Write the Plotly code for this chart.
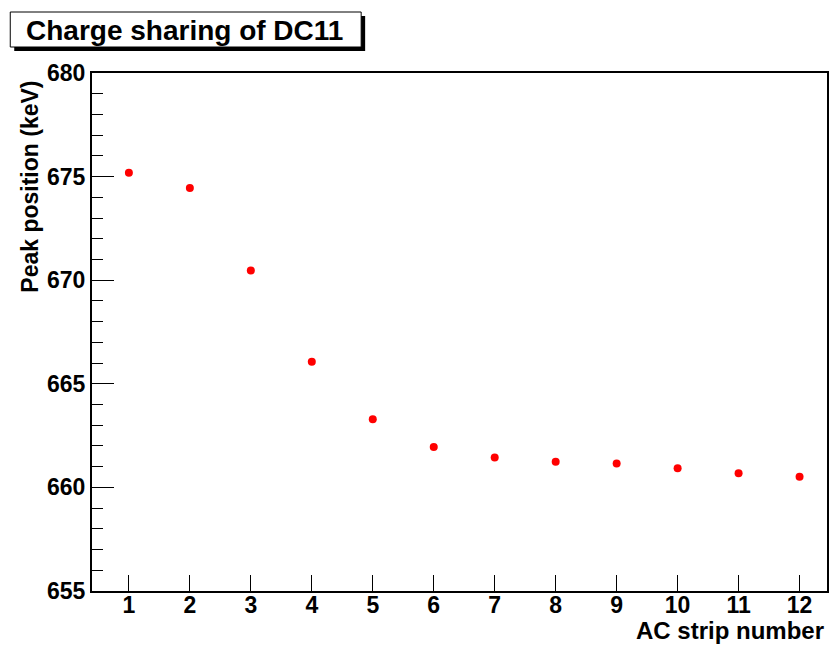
import plotly.graph_objects as go

# ---- data ----
strips = [1, 2, 3, 4, 5, 6, 7, 8, 9, 10, 11, 12]
peak_kev = [675.19, 674.45, 670.47, 666.06, 663.29, 661.95, 661.44, 661.24, 661.15, 660.92, 660.68, 660.52]
y_ticks = [655, 660, 665, 670, 675, 680]
title_text = "Charge sharing of DC11"
x_title = "AC strip number"
y_title = "Peak position (keV)"

# ---- layout geometry (pixels) ----
W, H = 833, 645
L, R, T, B = 92, 829.3, 73, 591
pw, ph = R - L, B - T

def px(x):
    return (x - L) / pw

def py(y):
    return (B - y) / ph

FONT = "Liberation Sans"

fig = go.Figure()
fig.add_trace(go.Scatter(
    x=strips, y=peak_kev, mode="markers",
    marker=dict(color="#ff0000", size=8, line=dict(width=0)),
    showlegend=False, cliponaxis=False,
))

fig.update_layout(
    width=W, height=H,
    margin=dict(l=L, r=W - R, t=T, b=H - B, pad=0),
    paper_bgcolor="white", plot_bgcolor="white",
    font=dict(family=FONT, color="black"),
    xaxis=dict(
        range=[0.395, 12.45], tickmode="array", tickvals=strips,
        ticktext=["<b>%d</b>" % s for s in strips],
        ticks="inside", ticklen=16, tickwidth=1, tickcolor="black",
        ticklabelstandoff=-8,
        showline=True, linecolor="black", linewidth=2, mirror=True,
        showgrid=False, zeroline=False,
        tickfont=dict(family=FONT, size=23, color="black"),
    ),
    yaxis=dict(
        range=[655, 680], tickmode="array", tickvals=y_ticks,
        ticktext=["<b>%d</b>" % v for v in y_ticks],
        ticks="inside", ticklen=22, tickwidth=1, tickcolor="black",
        minor=dict(ticks="inside", ticklen=11, dtick=1, tick0=655, tickcolor="black", tickwidth=1, showgrid=False),
        showline=True, linecolor="black", linewidth=2, mirror=True,
        showgrid=False, zeroline=False,
        tickfont=dict(family=FONT, size=23, color="black"),
    ),
)

# title box with shadow
fig.add_shape(type="rect", xref="paper", yref="paper",
              x0=px(14), x1=px(366), y0=py(51), y1=py(16),
              fillcolor="black", line=dict(width=0), layer="above")
fig.add_shape(type="rect", xref="paper", yref="paper",
              x0=px(10), x1=px(362), y0=py(47), y1=py(12),
              fillcolor="white", line=dict(color="black", width=1), layer="above")
fig.add_annotation(xref="paper", yref="paper", x=px(185), y=py(30),
                   text="<b>%s</b>" % title_text, showarrow=False,
                   xanchor="center", yanchor="middle",
                   font=dict(family=FONT, size=28, color="black"))

# axis titles (right-aligned, ROOT style)
fig.add_annotation(xref="paper", yref="paper", x=px(828), y=py(630),
                   text="<b>%s</b>" % x_title, showarrow=False,
                   xanchor="right", yanchor="middle",
                   font=dict(family=FONT, size=24, color="black"))
fig.add_annotation(xref="paper", yref="paper", x=px(29.5), y=py(187),
                   text="<b>%s</b>" % y_title, showarrow=False, textangle=-90,
                   xanchor="center", yanchor="middle",
                   font=dict(family=FONT, size=23, color="black"))

fig.write_html("out.html")
